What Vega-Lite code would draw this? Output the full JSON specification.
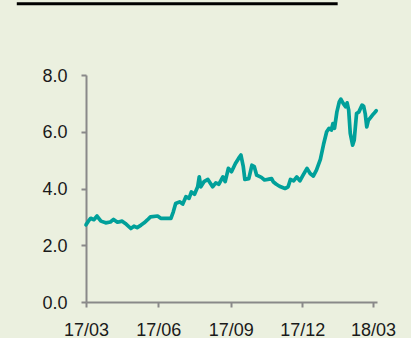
{
  "$schema": "https://vega.github.io/schema/vega-lite/v6.json",
  "width": 291,
  "height": 227,
  "autosize": {"type": "none"},
  "padding": {"left": 86, "top": 75, "right": 34, "bottom": 36},
  "background": "#EBF0DF",
  "config": {
    "view": {"stroke": null},
    "font": "Liberation Sans",
    "axis": {
      "labelFont": "Liberation Sans",
      "labelFontSize": 18,
      "labelColor": "#1a1a1a",
      "domainColor": "#898989",
      "domainWidth": 2,
      "tickColor": "#898989",
      "tickWidth": 2,
      "tickSize": 5,
      "labelPadding": 14,
      "grid": false,
      "title": null
    }
  },
  "datasets": {
    "series": [
      {"date": "2017-03-01", "v": 2.72},
      {"date": "2017-03-04", "v": 2.85},
      {"date": "2017-03-07", "v": 2.95},
      {"date": "2017-03-11", "v": 2.9},
      {"date": "2017-03-15", "v": 3.03},
      {"date": "2017-03-20", "v": 2.85},
      {"date": "2017-03-26", "v": 2.79},
      {"date": "2017-04-01", "v": 2.82},
      {"date": "2017-04-05", "v": 2.91},
      {"date": "2017-04-10", "v": 2.81},
      {"date": "2017-04-16", "v": 2.85},
      {"date": "2017-04-20", "v": 2.77},
      {"date": "2017-04-27", "v": 2.59},
      {"date": "2017-05-01", "v": 2.67},
      {"date": "2017-05-05", "v": 2.62},
      {"date": "2017-05-10", "v": 2.71},
      {"date": "2017-05-14", "v": 2.79},
      {"date": "2017-05-18", "v": 2.89},
      {"date": "2017-05-22", "v": 3.0},
      {"date": "2017-05-31", "v": 3.03},
      {"date": "2017-06-04", "v": 2.95},
      {"date": "2017-06-13", "v": 2.95},
      {"date": "2017-06-17", "v": 2.95},
      {"date": "2017-06-20", "v": 3.18},
      {"date": "2017-06-23", "v": 3.47},
      {"date": "2017-06-28", "v": 3.53},
      {"date": "2017-07-02", "v": 3.45},
      {"date": "2017-07-06", "v": 3.71},
      {"date": "2017-07-10", "v": 3.65},
      {"date": "2017-07-13", "v": 3.88},
      {"date": "2017-07-17", "v": 3.8},
      {"date": "2017-07-21", "v": 4.06},
      {"date": "2017-07-23", "v": 4.41},
      {"date": "2017-07-25", "v": 4.06},
      {"date": "2017-07-29", "v": 4.24},
      {"date": "2017-08-03", "v": 4.32},
      {"date": "2017-08-09", "v": 4.06},
      {"date": "2017-08-13", "v": 4.2},
      {"date": "2017-08-17", "v": 4.15},
      {"date": "2017-08-22", "v": 4.41},
      {"date": "2017-08-25", "v": 4.24},
      {"date": "2017-08-29", "v": 4.71},
      {"date": "2017-09-02", "v": 4.59},
      {"date": "2017-09-07", "v": 4.88},
      {"date": "2017-09-11", "v": 5.06},
      {"date": "2017-09-14", "v": 5.18},
      {"date": "2017-09-17", "v": 4.77},
      {"date": "2017-09-19", "v": 4.32},
      {"date": "2017-09-24", "v": 4.35},
      {"date": "2017-09-28", "v": 4.82},
      {"date": "2017-10-01", "v": 4.77},
      {"date": "2017-10-04", "v": 4.47},
      {"date": "2017-10-10", "v": 4.39},
      {"date": "2017-10-14", "v": 4.3},
      {"date": "2017-10-18", "v": 4.32},
      {"date": "2017-10-23", "v": 4.35},
      {"date": "2017-10-25", "v": 4.24},
      {"date": "2017-10-29", "v": 4.15},
      {"date": "2017-11-02", "v": 4.08},
      {"date": "2017-11-09", "v": 4.0},
      {"date": "2017-11-13", "v": 4.06},
      {"date": "2017-11-16", "v": 4.32},
      {"date": "2017-11-20", "v": 4.27},
      {"date": "2017-11-24", "v": 4.41},
      {"date": "2017-11-28", "v": 4.27},
      {"date": "2017-12-02", "v": 4.47},
      {"date": "2017-12-07", "v": 4.71},
      {"date": "2017-12-11", "v": 4.53},
      {"date": "2017-12-15", "v": 4.44},
      {"date": "2017-12-19", "v": 4.65},
      {"date": "2017-12-24", "v": 5.03},
      {"date": "2017-12-28", "v": 5.55},
      {"date": "2018-01-01", "v": 6.0},
      {"date": "2018-01-04", "v": 6.12},
      {"date": "2018-01-07", "v": 6.06},
      {"date": "2018-01-09", "v": 6.29},
      {"date": "2018-01-11", "v": 6.12},
      {"date": "2018-01-14", "v": 6.7},
      {"date": "2018-01-17", "v": 7.05},
      {"date": "2018-01-19", "v": 7.15},
      {"date": "2018-01-22", "v": 7.0},
      {"date": "2018-01-25", "v": 6.88},
      {"date": "2018-01-27", "v": 7.02},
      {"date": "2018-01-29", "v": 6.76},
      {"date": "2018-01-31", "v": 5.94},
      {"date": "2018-02-03", "v": 5.53},
      {"date": "2018-02-05", "v": 5.7},
      {"date": "2018-02-08", "v": 6.64},
      {"date": "2018-02-11", "v": 6.7},
      {"date": "2018-02-15", "v": 6.94},
      {"date": "2018-02-17", "v": 6.9},
      {"date": "2018-02-19", "v": 6.64},
      {"date": "2018-02-21", "v": 6.17},
      {"date": "2018-02-23", "v": 6.4},
      {"date": "2018-02-28", "v": 6.58},
      {"date": "2018-03-02", "v": 6.64},
      {"date": "2018-03-05", "v": 6.74}
    ]
  },
  "layer": [
    {
      "data": {"values": [{"start": "2016-12-03", "end": "2018-01-15", "level": 10.51}]},
      "mark": {"type": "rule", "color": "#000000", "strokeWidth": 3, "clip": false},
      "encoding": {
        "x": {"field": "start", "type": "temporal"},
        "x2": {"field": "end"},
        "y": {"field": "level", "type": "quantitative"}
      }
    },
    {
      "data": {"name": "series"},
      "mark": {"type": "line", "color": "#00A09A", "strokeWidth": 3.7, "strokeJoin": "round", "strokeCap": "round"},
      "encoding": {
        "x": {
          "field": "date",
          "type": "temporal",
          "scale": {"domain": ["2017-03-01T00:00:00", "2018-03-06T00:00:00"]},
          "axis": {
            "values": ["2017-03-01T00:00:00", "2017-06-01T00:00:00", "2017-09-01T00:00:00", "2017-12-01T00:00:00", "2018-03-01T00:00:00"],
            "format": "%y/%m",
            "labelFlush": false,
            "labelOverlap": false
          }
        },
        "y": {
          "field": "v",
          "type": "quantitative",
          "scale": {"domain": [0, 8], "nice": false, "zero": true},
          "axis": {"values": [0, 2, 4, 6, 8], "format": ".1f", "labelOffset": 1}
        }
      }
    }
  ]
}
